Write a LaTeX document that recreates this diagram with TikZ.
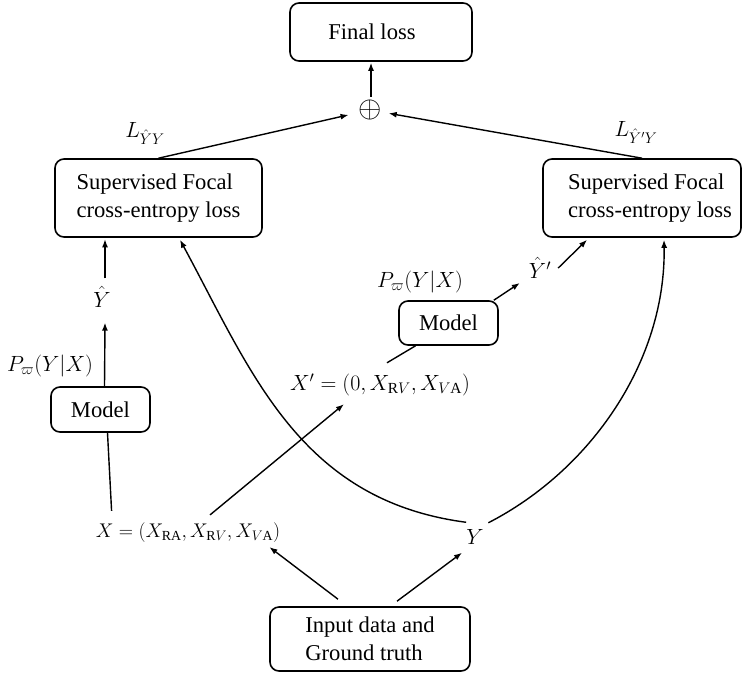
\documentclass[tikz,border=0pt]{standalone}
\usepackage{fix-cm}
\usepackage{amsmath}
\usepackage{fontspec}
\setmainfont{Liberation Serif}[Ligatures=TeX]
\usetikzlibrary{arrows.meta,calc}
\begin{document}
\begin{tikzpicture}[x=1pt,y=-1pt,
  font=\rmfamily\fontsize{22.6}{28}\selectfont,
  box/.style={draw, rounded corners=9pt, line width=1.6pt, inner sep=0pt, align=center},
  lbl/.style={inner sep=0pt, font=\rmfamily\fontsize{22}{26}\selectfont},
  mth/.style={inner sep=0pt, font=\rmfamily\fontsize{19.8}{24}\selectfont},
  arr/.style={-{Latex[length=8pt,width=6pt]}, line width=1.4pt},
  ln/.style={line width=1.4pt}]
\useasboundingbox (0,0) rectangle (743,672);

% nodes
\node[box, minimum width=182pt, minimum height=58pt] (final) at (381,32) {\hspace*{-18pt}Final loss};
\node[inner sep=0pt, font=\fontsize{30}{30}\selectfont] (plus) at (370,110) {$\oplus$};
\node[lbl] (LL) at (145,133) {$L_{\hat{Y}Y}$};
\node[lbl] (LR) at (636,132) {$L_{\hat{Y}'Y}$};
\node[box, minimum width=207pt, minimum height=78pt, align=left] (sfL) at (158.5,198) {Supervised Focal\\cross-entropy loss};
\node[box, minimum width=198pt, minimum height=78pt, align=left] (sfR) at (642,198) {\hspace*{16pt}Supervised Focal\\\hspace*{16pt}cross-entropy loss};
\node[lbl] (yhat) at (102,297) {$\hat{Y}$};
\node[lbl] (P1) at (50,366) {$P_{\varpi}(Y|X)$};
\node[box, minimum width=99pt, minimum height=45pt] (m1) at (100.5,409.5) {Model};
\node[mth] (X) at (188,533) {$X=(X_{\mathrm{RA}},X_{\mathrm{R}V},X_{V\mathrm{A}})$};
\node[lbl] (Xp) at (380,385) {$X'=(0,X_{\mathrm{R}V},X_{V\mathrm{A}})$};
\node[box, minimum width=99pt, minimum height=44pt] (m2) at (448.5,323) {Model};
\node[lbl] (P2) at (420,282) {$P_{\varpi}(Y|X)$};
\node[lbl] (yp) at (540,268) {$\hat{Y}'$};
\node[lbl] (Y) at (475,537) {$Y$};
\node[box, minimum width=200pt, minimum height=64pt, align=left] (inp) at (370,639) {Input data and\\Ground truth};

% connectors
\draw[arr] ($(plus.north)+(1,-3)$) -- ($(plus.north |- final.south)+(1,1)$);
\draw[arr, shorten >=22pt] (sfL.north) -- (plus.center);
\draw[arr, shorten >=19pt] (sfR.north) -- (plus.center);
\draw[arr] ($(yhat.north)+(3,-8)$) -- ($(sfL.south -| yhat.north)+(3,1.5)$);
\draw[arr] ($(m1.north)+(4,0)$) -- ($(yhat.south)+(3,15)$);
\draw[ln] ($(m1.south)+(7,0)$) -- ($(X.north west)+(16,-12)$);
\draw[arr] ($(X.north)+(22,-8)$) -- ($(Xp.south west)+(54,8)$);
\draw[ln] ($(Xp.north)+(7,-11)$) -- ($(m2.south)+(-33,0)$);
\draw[arr] ($(m2.north east)+(-5,0)$) -- ($(yp.west)+(-9,15)$);
\draw[arr] ($(yp.east)+(7,0)$) -- ($(sfR.south)+(-55,2)$);
\draw[arr] ($(Y.north west)+(0,-7)$) .. controls +(-167,-22) and +(71.5,132) .. ($(sfL.south)+(21.5,2)$);
\draw[arr] ($(Y.north east)+(4.5,-6.5)$) .. controls +(103,-53) and +(2,121) .. ($(sfR.south)+(22,2)$);
\draw[arr] ($(inp.north)+(-32,-7)$) -- ($(X.south east)+(-11,4)$);
\draw[arr] ($(inp.north)+(27,-5)$) -- ($(Y.south)+(-13,8)$);
\end{tikzpicture}
\end{document}
